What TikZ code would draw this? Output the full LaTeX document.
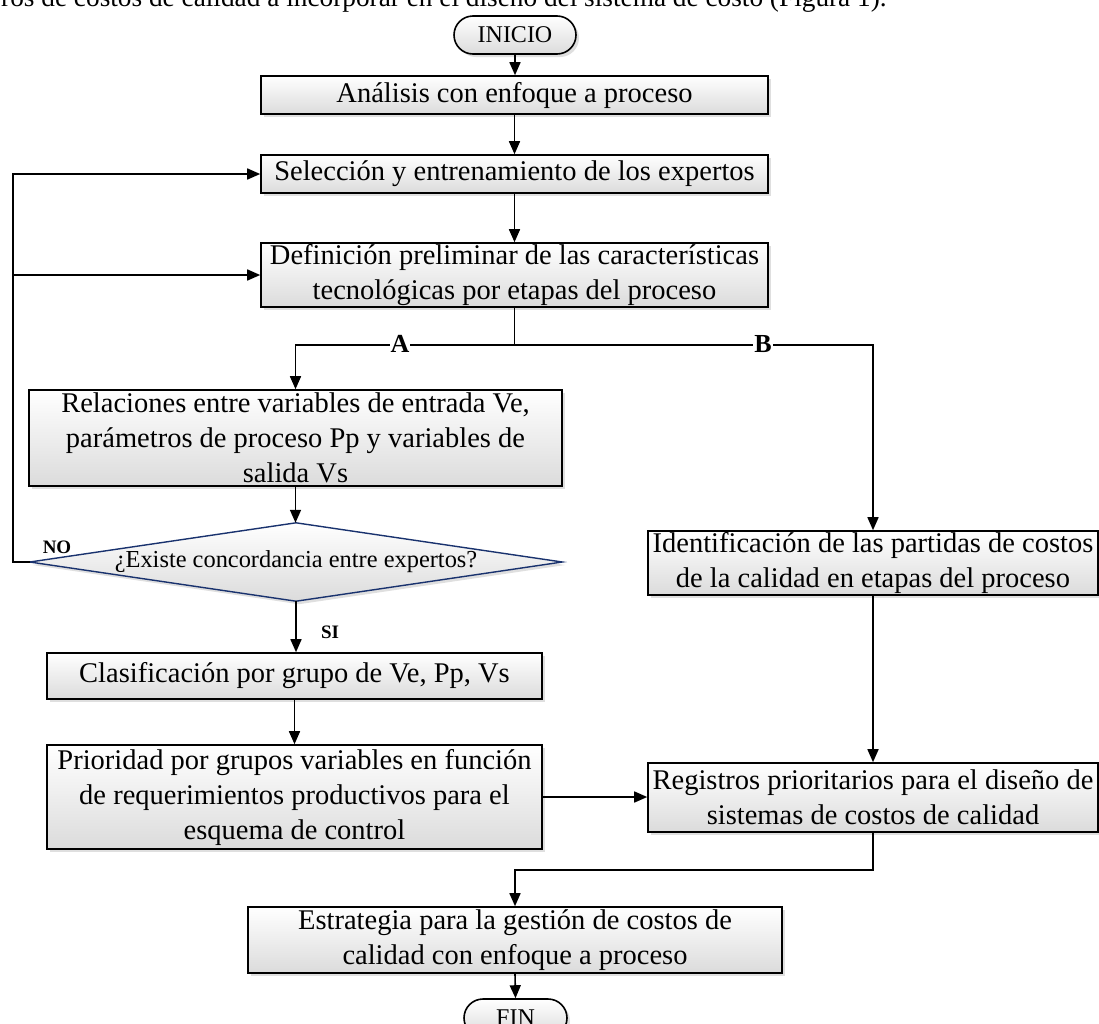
\documentclass[tikz,border=0pt]{standalone}
\usepackage{fontspec}
\setmainfont{Liberation Serif}
\usetikzlibrary{arrows.meta,shadows,calc,backgrounds}
\definecolor{decblue}{RGB}{25,50,110}
\begin{document}
\begin{tikzpicture}[x=1pt,y=-1pt,
  conn/.style={line width=1.6pt},
  arr/.style={conn,-{Triangle[length=13pt,width=11pt]}},
  boxbase/.style={rectangle, draw, line width=1.6pt, inner sep=0pt, align=center,
     top color=white, bottom color=black!14,
     drop shadow={shadow xshift=3pt, shadow yshift=-3pt, fill=black!25, opacity=0.5},
     font=\fontsize{28.5}{35}\selectfont},
  procbox/.style={boxbase},
  term/.style={boxbase, rounded corners=19pt, font=\fontsize{24}{28}\selectfont},
  lbl/.style={font=\bfseries\fontsize{26}{30}\selectfont, fill=white, inner sep=1pt},
  yn/.style={font=\bfseries\fontsize{19}{22}\selectfont, inner sep=0pt},
]
\useasboundingbox (0,0) rectangle (1099,1023);

% caption fragment cut off at the top
\node[anchor=base west, inner sep=0pt, font=\fontsize{27.3}{31}\selectfont] (cap) at (1,6)
  {ros de costos de calidad a incorporar en el diseño del sistema de costo (Figura 1).};

% nodes
\node[term, minimum width=122pt, minimum height=38pt] (ini) at (515,35) {INICIO};
\node[procbox, minimum width=507pt, minimum height=38pt] (ana) at (514.5,95) {Análisis con enfoque a proceso};
\node[procbox, minimum width=507pt, minimum height=38pt] (sel) at (514.5,174) {Selección y entrenamiento de los expertos};
\node[procbox, minimum width=507pt, minimum height=64pt] (def) at (514.5,275) {Definición preliminar de las características\\tecnológicas por etapas del proceso};
\node[procbox, minimum width=533pt, minimum height=96pt] (rel) at (295.5,438) {Relaciones entre variables de entrada Ve,\\parámetros de proceso Pp y variables de\\salida Vs};
\node[minimum width=532pt, minimum height=78pt, inner sep=0pt, font=\fontsize{24.4}{28}\selectfont] (dec) at (296,562) {\raisebox{-3pt}{¿Existe concordancia entre expertos?}};
\begin{pgfonlayer}{background}
  \fill[black!25, opacity=0.5] ($(dec.west)+(3,3)$) -- ($(dec.north)+(3,3)$) -- ($(dec.east)+(3,3)$) -- ($(dec.south)+(3,3)$) -- cycle;
  \shade[top color=white, bottom color=black!14] (dec.west) -- (dec.north) -- (dec.east) -- (dec.south) -- cycle;
  \draw[decblue, line width=1.4pt, line join=miter] (dec.west) -- (dec.north) -- (dec.east) -- (dec.south) -- cycle;
\end{pgfonlayer}
\node[procbox, minimum width=495pt, minimum height=46pt] (cla) at (294.5,676) {Clasificación por grupo de Ve, Pp, Vs};
\node[procbox, minimum width=495pt, minimum height=104pt] (pri) at (294.5,797) {Prioridad por grupos variables en función\\de requerimientos productivos para el\\esquema de control};
\node[procbox, minimum width=450pt, minimum height=64pt] (ide) at (873,563) {Identificación de las partidas de costos\\de la calidad en etapas del proceso};
\node[procbox, minimum width=450pt, minimum height=69pt] (reg) at (873,797.5) {Registros prioritarios para el diseño de\\sistemas de costos de calidad};
\node[procbox, minimum width=534pt, minimum height=66pt] (est) at (515,940) {Estrategia para la gestión de costos de\\calidad con enfoque a proceso};
\node[term, minimum width=103pt, minimum height=38pt] (fin) at (515.5,1018) {FIN};

% connectors
\draw[arr] (ini.south) -- (ini.south |- ana.north);
\draw[arr] (ana.south) -- (ana.south |- sel.north);
\draw[arr] (sel.south) -- (sel.south |- def.north);
\coordinate (br) at ($(def.south)+(0,37)$);
\draw[conn] (def.south) -- (br);
\draw[arr] (br) -- (rel.north |- br) -- (rel.north);
\draw[arr] (br) -- (ide.north |- br) -- (ide.north);
\node[lbl] (la) at (400,344) {A};
\node[lbl] (lb) at (763,344) {B};
\draw[arr] (rel.south) -- (rel.south |- dec.north);
\draw[arr] (dec.south) -- (dec.south |- cla.north);
\node[yn] (si) at (330,632) {SI};
\coordinate (loopx) at (13,0);
\draw[arr] (dec.west) -- (dec.west -| loopx) -- (sel.west -| loopx) -- (sel.west);
\draw[arr] (def.west -| loopx) -- (def.west);
\node[yn] (no) at (57,547) {NO};
\draw[arr] (cla.south) -- (cla.south |- pri.north);
\draw[arr] (pri.east) -- (pri.east -| reg.west);
\draw[arr] (ide.south) -- (reg.north);
\coordinate (mg) at ($(reg.south)+(0,37)$);
\draw[arr] (reg.south) -- (mg) -- (est.north |- mg) -- (est.north);
\draw[arr] (est.south) -- (fin.north);
\end{tikzpicture}
\end{document}
